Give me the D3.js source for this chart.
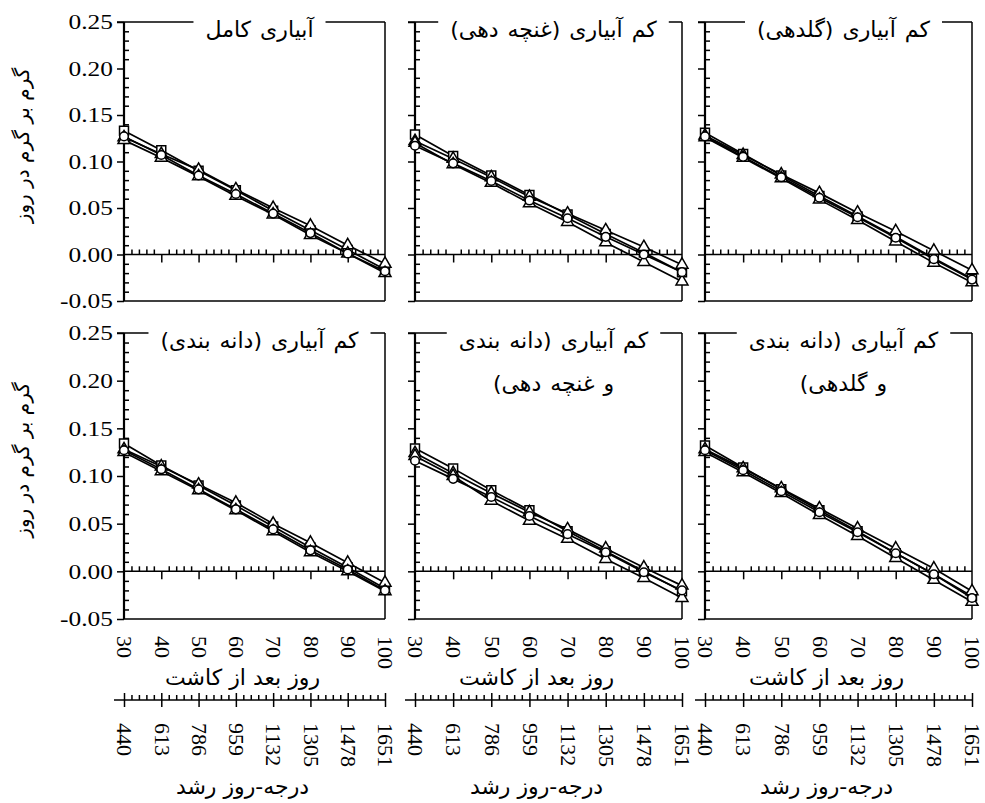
<!DOCTYPE html>
<html>
<head>
<meta charset="utf-8">
<script src="https://cdn.jsdelivr.net/npm/d3@7"></script>
<style>
  body { margin: 0; background: #fff; }
  svg { display: block; }
</style>
</head>
<body>
<svg id="chart" width="985" height="803"></svg>
<script>
// x values (days after sowing) and the growing degree-day scale under them
const days = [30, 40, 50, 60, 70, 80, 90, 100];
const gddTicks = [440, 613, 786, 959, 1132, 1305, 1478, 1651];
const yTicks = [-0.05, 0, 0.05, 0.10, 0.15, 0.20, 0.25];

// markers of the four series, in order
const seriesMarkers = ["square", "triangle", "triangle", "circle"];

// one array per panel, each holding the 4 series
const fullIrrigation = [
  [0.133, 0.112, 0.090, 0.069, 0.047, 0.026, 0.005, -0.016],
  [0.126, 0.108, 0.091, 0.070, 0.050, 0.031, 0.010, -0.010],
  [0.123, 0.104, 0.084, 0.063, 0.043, 0.021, 0.001, -0.020],
  [0.127, 0.107, 0.085, 0.065, 0.044, 0.023, 0.001, -0.018]
];
const budStress = [
  [0.129, 0.106, 0.085, 0.064, 0.043, 0.022, 0.002, -0.019],
  [0.122, 0.103, 0.083, 0.062, 0.044, 0.026, 0.008, -0.011],
  [0.120, 0.097, 0.077, 0.055, 0.035, 0.013, -0.008, -0.029],
  [0.117, 0.098, 0.079, 0.058, 0.039, 0.019, 0.000, -0.019]
];
const flowerStress = [
  [0.131, 0.108, 0.085, 0.063, 0.041, 0.019, -0.004, -0.026],
  [0.128, 0.107, 0.086, 0.066, 0.045, 0.025, 0.004, -0.017],
  [0.126, 0.104, 0.082, 0.059, 0.037, 0.014, -0.009, -0.030],
  [0.127, 0.105, 0.083, 0.061, 0.040, 0.018, -0.005, -0.027]
];
const seedStress = [
  [0.134, 0.111, 0.090, 0.069, 0.047, 0.025, 0.004, -0.018],
  [0.128, 0.110, 0.091, 0.072, 0.050, 0.030, 0.009, -0.012],
  [0.125, 0.105, 0.085, 0.064, 0.042, 0.020, 0.000, -0.021],
  [0.127, 0.107, 0.086, 0.065, 0.044, 0.022, 0.002, -0.020]
];
const seedBudStress = [
  [0.129, 0.108, 0.085, 0.064, 0.042, 0.021, 0.000, -0.021],
  [0.124, 0.103, 0.082, 0.062, 0.044, 0.024, 0.004, -0.015],
  [0.121, 0.100, 0.074, 0.053, 0.034, 0.013, -0.007, -0.028],
  [0.116, 0.097, 0.078, 0.058, 0.039, 0.020, -0.001, -0.020]
];
const seedFlowerStress = [
  [0.132, 0.109, 0.086, 0.064, 0.042, 0.019, -0.003, -0.026],
  [0.128, 0.108, 0.087, 0.066, 0.045, 0.024, 0.003, -0.021],
  [0.125, 0.104, 0.082, 0.059, 0.037, 0.014, -0.009, -0.032],
  [0.127, 0.106, 0.084, 0.062, 0.041, 0.019, -0.003, -0.028]
];

const yLabel = "گرم بر گرم در روز";
const xLabel = "روز بعد از کاشت";
const gddLabel = "درجه-روز رشد";

const panels = [
  { row: 0, col: 0, title: ["آبیاری کامل"], data: fullIrrigation },
  { row: 0, col: 1, title: ["کم آبیاری (غنچه دهی)"], data: budStress },
  { row: 0, col: 2, title: ["کم آبیاری (گلدهی)"], data: flowerStress },
  { row: 1, col: 0, title: ["کم آبیاری (دانه بندی)"], data: seedStress },
  { row: 1, col: 1, title: ["کم آبیاری (دانه بندی", "و غنچه دهی)"], data: seedBudStress },
  { row: 1, col: 2, title: ["کم آبیاری (دانه بندی", "و گلدهی)"], data: seedFlowerStress }
];

const cols = [{ l: 124, r: 385 }, { l: 415, r: 682 }, { l: 705, r: 972 }];
const rows = [{ t: 22, b: 301 }, { t: 333, b: 619 }];

const FA = "'DejaVu Sans', sans-serif";
const NUM = "'Liberation Serif', serif";

const svg = d3.select("#chart");

const symbolOf = {
  square: d3.symbol().type(d3.symbolSquare).size(80),
  triangle: d3.symbol().type(d3.symbolTriangle).size(62),
  circle: d3.symbol().type(d3.symbolCircle).size(58)
};

const styleAxis = (sel) => {
  sel.attr("font-family", null).attr("font-size", null);
  sel.selectAll(".tick line").attr("stroke", "#000").attr("stroke-width", 1.5);
  sel.select(".domain").remove();
};

panels.forEach(p => {
  const c = cols[p.col], rw = rows[p.row];
  const x = d3.scaleLinear().domain([30, 100]).range([c.l, c.r]);
  const y = d3.scaleLinear().domain([-0.05, 0.25]).range([rw.b, rw.t]);
  const g = svg.append("g");

  // y axis: major ticks outside, minor ticks inside
  const yMaj = g.append("g")
    .attr("transform", `translate(${c.l},0)`)
    .call(d3.axisLeft(y).tickValues(yTicks).tickSize(7).tickFormat(d => d.toFixed(2)));
  styleAxis(yMaj);
  if (p.col === 0) {
    yMaj.selectAll("text")
      .style("font-family", NUM)
      .style("font-size", "20px")
      .attr("x", 0)
      .attr("dy", "0.34em")
      .attr("text-anchor", "end")
      .attr("fill", "#000")
      .attr("transform", "translate(-11,0) scale(1.27,1)");
  } else {
    yMaj.selectAll("text").remove();
  }
  const yMinorVals = d3.range(-5, 26).map(v => v / 100).filter((v, i) => i % 5 !== 0);
  const yMin = g.append("g")
    .attr("transform", `translate(${c.l},0)`)
    .call(d3.axisRight(y).tickValues(yMinorVals).tickSize(5).tickFormat(""));
  styleAxis(yMin);

  // zero line with ticks
  const zeroY = y(0);
  g.append("line")
    .attr("x1", c.l).attr("x2", c.r).attr("y1", zeroY).attr("y2", zeroY)
    .attr("stroke", "#000").attr("stroke-width", 1.5);
  const xMaj = g.append("g")
    .attr("transform", `translate(0,${zeroY})`)
    .call(d3.axisBottom(x).tickValues(days.slice(1, -1)).tickSize(8).tickFormat(""));
  styleAxis(xMaj);
  const xMinorVals = d3.range(30, 101, 2).filter(v => v % 10 !== 0);
  const xMin = g.append("g")
    .attr("transform", `translate(0,${zeroY})`)
    .call(d3.axisTop(x).tickValues(xMinorVals).tickSize(5).tickFormat(""));
  styleAxis(xMin);

  // title
  const tg = g.append("g");
  const cx = (c.l + c.r) / 2 + 5;
  let tw = 0;
  p.title.forEach((line, i) => {
    const t = tg.append("text")
      .attr("x", cx)
      .attr("y", rw.t + 15 + i * 43)
      .attr("text-anchor", "middle")
      .attr("direction", "rtl")
      .style("font-family", FA)
      .style("font-size", "22px")
      .style("word-spacing", "2px")
      .attr("fill", "#000")
      .text(line);
    if (i === 0) tw = t.node().getComputedTextLength();
  });
  const pad = 12;

  // frame
  const frame = [
    [c.l - 7, rw.t, cx - tw / 2 - pad, rw.t],
    [cx + tw / 2 + pad, rw.t, c.r, rw.t],
    [c.r, rw.t, c.r, rw.b],
    [c.l, rw.b, c.r, rw.b]
  ];
  g.selectAll(".frame").data(frame).enter().append("line")
    .attr("x1", d => d[0]).attr("y1", d => d[1])
    .attr("x2", d => d[2]).attr("y2", d => d[3])
    .attr("stroke", "#000").attr("stroke-width", 1.5);
  g.append("line")
    .attr("x1", c.l).attr("x2", c.l).attr("y1", rw.t).attr("y2", rw.b)
    .attr("stroke", "#000").attr("stroke-width", 2.2);

  // series lines then markers
  const line = d3.line().x((d, i) => x(days[i])).y(d => y(d));
  g.selectAll(".series").data(p.data).enter().append("path")
    .attr("d", line)
    .attr("fill", "none")
    .attr("stroke", "#000")
    .attr("stroke-width", 1.7);
  [0, 1, 2, 3].forEach(si => {
    g.append("g").selectAll("path").data(p.data[si]).enter().append("path")
      .attr("d", symbolOf[seriesMarkers[si]])
      .attr("transform", (d, i) => `translate(${x(days[i])},${y(d)})`)
      .attr("fill", "#fff")
      .attr("stroke", "#000")
      .attr("stroke-width", 1.5);
  });

  // bottom row: tick labels, x titles, second (GDD) axis
  if (p.row === 1) {
    const lab = g.append("g")
      .attr("transform", `translate(0,${rw.b})`)
      .call(d3.axisBottom(x).tickValues(days).tickSize(0).tickFormat(d3.format("d")));
    lab.attr("font-family", null).attr("font-size", null);
    lab.select(".domain").remove();
    lab.selectAll("text")
      .style("font-family", NUM)
      .style("font-size", "22px")
      .attr("fill", "#000")
      .attr("text-anchor", "start")
      .attr("x", 17).attr("y", 0).attr("dy", "0.33em")
      .attr("transform", "rotate(90)");

    g.append("text")
      .attr("x", cx - 17).attr("y", 685)
      .attr("text-anchor", "middle").attr("direction", "rtl")
      .style("font-family", FA).style("font-size", "22px")
      .attr("fill", "#000")
      .text(xLabel);

    const xg = d3.scaleLinear().domain([440, 1651]).range([c.l, c.r]);
    const axisY = 700;
    g.append("line")
      .attr("x1", c.l - 10).attr("x2", c.r).attr("y1", axisY).attr("y2", axisY)
      .attr("stroke", "#000").attr("stroke-width", 1.5);
    const gMajB = g.append("g").attr("transform", `translate(0,${axisY})`)
      .call(d3.axisBottom(xg).tickValues(gddTicks).tickSize(7).tickFormat(""));
    styleAxis(gMajB);
    const gMajT = g.append("g").attr("transform", `translate(0,${axisY})`)
      .call(d3.axisTop(xg).tickValues(gddTicks).tickSize(7).tickFormat(""));
    styleAxis(gMajT);
    const gddMinor = d3.range(0, 36).filter(k => k % 5 !== 0).map(k => 440 + k * 173 / 5);
    const gMin = g.append("g").attr("transform", `translate(0,${axisY})`)
      .call(d3.axisTop(xg).tickValues(gddMinor).tickSize(5).tickFormat(""));
    styleAxis(gMin);
    const gLab = g.append("g").attr("transform", `translate(0,${axisY})`)
      .call(d3.axisBottom(xg).tickValues(gddTicks).tickSize(0).tickFormat(d3.format("d")));
    gLab.attr("font-family", null).attr("font-size", null);
    gLab.select(".domain").remove();
    gLab.selectAll("text")
      .style("font-family", NUM)
      .style("font-size", "22px")
      .attr("fill", "#000")
      .attr("text-anchor", "start")
      .attr("x", 23).attr("y", 0).attr("dy", "0.33em")
      .attr("transform", "rotate(90)");

    g.append("text")
      .attr("x", cx - 17).attr("y", 794)
      .attr("text-anchor", "middle").attr("direction", "rtl")
      .style("font-family", FA).style("font-size", "22px")
      .attr("fill", "#000")
      .text(gddLabel);
  }

  // y title on the left column
  if (p.col === 0) {
    const ym = (rw.t + rw.b) / 2 - 16;
    g.append("text")
      .attr("transform", `translate(22,${ym}) rotate(-90)`)
      .attr("text-anchor", "middle").attr("direction", "rtl")
      .attr("dy", "0.35em")
      .style("font-family", FA).style("font-size", "20px")
      .attr("fill", "#000")
      .text(yLabel);
  }
});
</script>
</body>
</html>
